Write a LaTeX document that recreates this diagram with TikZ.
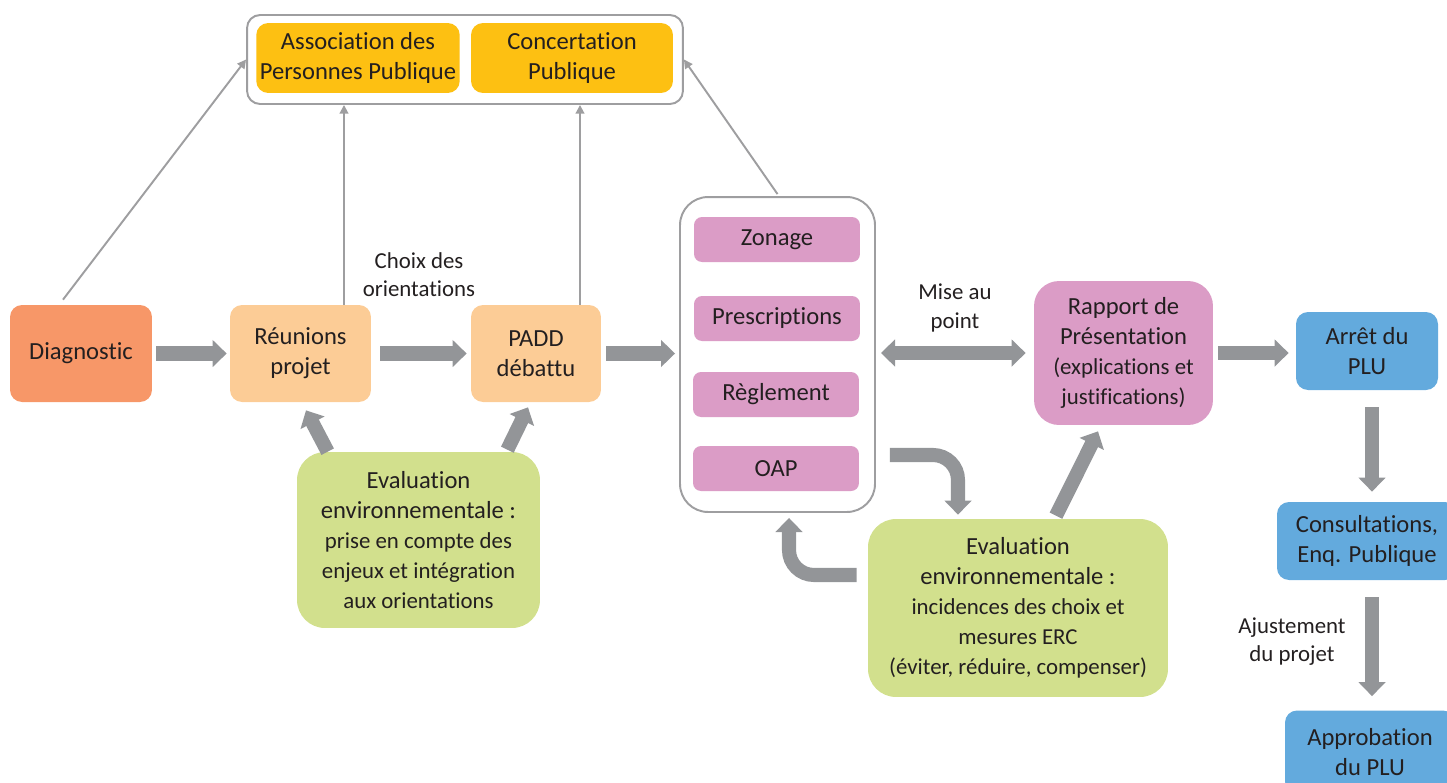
\documentclass[tikz,border=0pt]{standalone}
\usepackage{fontspec}
\setmainfont{Carlito}[Ligatures=NoCommon]
\usetikzlibrary{arrows.meta,calc}
\definecolor{diagc}{RGB}{247,151,104}
\definecolor{reunc}{RGB}{252,204,150}
\definecolor{assoc}{RGB}{253,192,18}
\definecolor{pinkc}{RGB}{219,156,198}
\definecolor{bluec}{RGB}{99,170,221}
\definecolor{greenc}{RGB}{210,224,141}
\definecolor{arrc}{RGB}{147,149,152}
\definecolor{linec}{RGB}{158,158,160}
\definecolor{txtc}{RGB}{35,31,32}
\newcommand{\boxfont}{\fontsize{14}{17}\selectfont}
\newcommand{\subfont}{\fontsize{13}{16}\selectfont}

\begin{document}
\begin{tikzpicture}[x=0.02cm, y=-0.02cm,
    box/.style={rounded corners=0.24cm, align=center, text=txtc, font=\boxfont, inner sep=2pt},
    frame/.style={draw=linec, line width=1.1pt, fill=white},
    flow/.style={-{Triangle[width=15pt,length=8pt]}, line width=8pt, draw=arrc},
    flowboth/.style={{Triangle[width=15pt,length=8pt]}-{Triangle[width=15pt,length=8pt]}, line width=8pt, draw=arrc},
    link/.style={-{Triangle[width=5pt,length=5pt]}, line width=1.1pt, draw=linec},
    note/.style={align=center, text=txtc, font=\subfont}]
    \clip (0,0) rectangle (1447,782);

    \node[box, fill=diagc, minimum width=2.84cm, minimum height=1.94cm] (diag) at (81,353.5) {Diagnostic};
    \node[box, fill=reunc, minimum width=2.82cm, minimum height=1.94cm] (reun) at (300.5,353.5) {Réunions\\projet};
    \node[box, fill=reunc, minimum width=2.60cm, minimum height=1.94cm] (padd) at (536,353.5) {PADD\\débattu};

    \node[frame, rounded corners=0.26cm, minimum width=8.72cm, minimum height=1.78cm] (top) at (465,59.5) {};
    \node[box, fill=assoc, minimum width=4.04cm, minimum height=1.40cm] (assoc) at (358,58) {Association des\\Personnes Publique};
    \node[box, fill=assoc, minimum width=4.04cm, minimum height=1.40cm] (concert) at (572,58) {Concertation\\Publique};

    \node[frame, rounded corners=0.56cm, minimum width=3.90cm, minimum height=6.30cm] (cont) at (777.5,354.5) {};
    \node[box, fill=pinkc, rounded corners=0.16cm, minimum width=3.32cm, minimum height=0.90cm] (zonage) at (777,239.5) {Zonage};
    \node[box, fill=pinkc, rounded corners=0.16cm, minimum width=3.32cm, minimum height=0.90cm] (prescr) at (777,318.5) {Prescriptions};
    \node[box, fill=pinkc, rounded corners=0.16cm, minimum width=3.32cm, minimum height=0.90cm] (regl) at (776,394.5) {Règlement};
    \node[box, fill=pinkc, rounded corners=0.16cm, minimum width=3.32cm, minimum height=0.90cm] (oap) at (776,468.5) {OAP};

    \node[box, fill=pinkc, rounded corners=0.5cm, minimum width=3.58cm, minimum height=2.88cm] (rapport) at (1123.5,353)
        {Rapport de\\Présentation\\\subfont (explications et\\\subfont justifications)};

    \node[box, fill=bluec, minimum width=2.84cm, minimum height=1.56cm] (arret) at (1367,351) {Arrêt du\\PLU};
    \node[box, fill=bluec, minimum width=3.60cm, minimum height=1.56cm] (consult) at (1367,541) {Consultations,\\Enq. Publique};
    \node[box, fill=bluec, minimum width=3.40cm, minimum height=1.66cm] (approb) at (1370,752) {Approbation\\du PLU};

    \node[box, fill=greenc, rounded corners=0.56cm, minimum width=4.86cm, minimum height=3.52cm] (eval1) at (418.5,540)
        {Evaluation\\environnementale :\\\subfont prise en compte des\\\subfont enjeux et intégration\\\subfont aux orientations};
    \node[box, fill=greenc, rounded corners=0.56cm, minimum width=6.00cm, minimum height=3.56cm] (eval2) at (1018,608)
        {Evaluation\\environnementale :\\\subfont incidences des choix et\\\subfont mesures ERC\\\subfont (éviter, réduire, compenser)};

    \node[note] (choix) at (419,275) {Choix des\\orientations};
    \node[note] (mise) at (955,308) {Mise au\\point};
    \node[note] (ajust) at (1292,642) {Ajustement\\du projet};

    \draw[flow, shorten <=0.08cm, shorten >=0.06cm] (diag) -- (reun);
    \draw[flow, shorten <=0.18cm, shorten >=0.08cm] (reun) -- (padd);
    \draw[flow, shorten <=0.1cm, shorten >=0.08cm] (padd.east) -- (padd.east -| cont.west);
    \draw[flowboth, shorten <=0.1cm, shorten >=0.16cm] (cont.east |- rapport.west) -- (rapport.west);
    \draw[flow, shorten <=0.1cm, shorten >=0.14cm] (rapport.east) -- (rapport.east -| arret.west);
    \coordinate (c1) at ($(arret.south)+(5,0)$);
    \coordinate (c2) at ($(consult.south)+(5,0)$);
    \draw[flow, shorten <=0.34cm, shorten >=0.2cm] (c1) -- (c1 |- consult.north);
    \draw[flow, shorten <=0.34cm, shorten >=0.28cm] (c2) -- (c2 |- approb.north);

    \draw[flow] ($(eval1.north west)+(31,0)$) -- ($(reun.south)+(5.5,8)$);
    \draw[flow] ($(eval1.north east)+(-33,-2)$) -- ($(padd.south)+(-8,5)$);
    \draw[flow] ($(eval2.north)+(38,-3)$) -- ($(rapport.south)+(-25.5,6)$);
    \draw[flow, rounded corners=0.5cm] ($(cont.east |- oap.east)+(14,-13.5)$) -| ($(eval2.north)+(-60,-4)$);
    \draw[flow, rounded corners=0.5cm] ($(eval2.west)+(-11,-33)$) -| ($(cont.south)+(11.5,5)$);

    \coordinate (r1) at ($(reun.north)+(43.5,0)$);
    \coordinate (p1) at ($(padd.north)+(44,0)$);
    \draw[link] ($(diag.north)+(-18,-5)$) -- (top.west);
    \draw[link] (r1) -- (r1 |- top.south);
    \draw[link] (p1) -- (p1 |- top.south);
    \draw[link] ($(cont.north)+(0,-2)$) -- (top.east);
\end{tikzpicture}
\end{document}
